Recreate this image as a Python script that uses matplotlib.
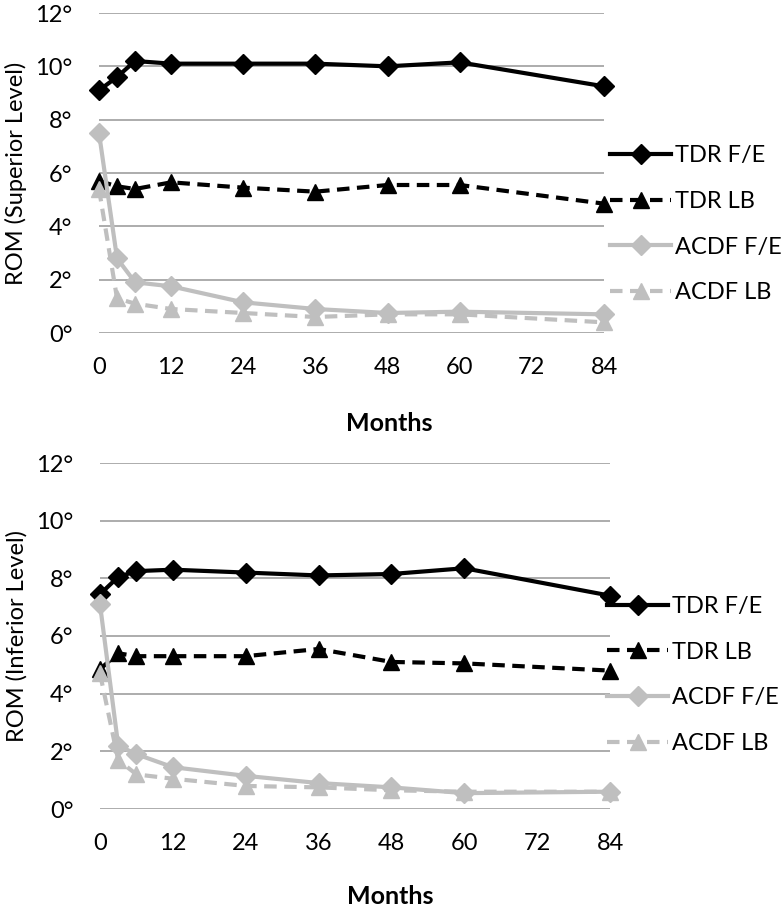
import matplotlib
matplotlib.use("Agg")
import matplotlib.pyplot as plt

plt.rcParams['font.family'] = ['Lato', 'DejaVu Sans']

months = [0, 3, 6, 12, 24, 36, 48, 60, 84]
x_ticks = [0, 12, 24, 36, 48, 60, 72, 84]
y_ticks = [0, 2, 4, 6, 8, 10, 12]
y_tick_labels = ["0°", "2°", "4°", "6°", "8°", "10°", "12°"]
series_names = ["TDR F/E", "TDR LB", "ACDF F/E", "ACDF LB"]

# Superior level
sup_tdr_fe = [9.1, 9.6, 10.2, 10.1, 10.1, 10.1, 10.0, 10.15, 9.25]
sup_tdr_lb = [5.7, 5.5, 5.4, 5.65, 5.45, 5.3, 5.55, 5.55, 4.85]
sup_acdf_fe = [7.5, 2.8, 1.9, 1.75, 1.15, 0.9, 0.75, 0.8, 0.7]
sup_acdf_lb = [5.4, 1.3, 1.1, 0.9, 0.75, 0.6, 0.7, 0.7, 0.4]

# Inferior level
inf_tdr_fe = [7.45, 8.05, 8.25, 8.3, 8.2, 8.1, 8.15, 8.35, 7.4]
inf_tdr_lb = [4.85, 5.4, 5.3, 5.3, 5.3, 5.55, 5.1, 5.05, 4.8]
inf_acdf_fe = [7.1, 2.2, 1.9, 1.45, 1.15, 0.9, 0.75, 0.55, 0.6]
inf_acdf_lb = [4.7, 1.7, 1.2, 1.05, 0.8, 0.75, 0.65, 0.6, 0.6]

BLACK = "#000000"
GRAY = "#BFBFBF"
GRID = "#A6A6A6"
FS = 17

styles = [
    dict(color=BLACK, linestyle='-', marker='D', ms=10),
    dict(color=BLACK, linestyle=(0, (3.0, 1.8)), marker='^', ms=12),
    dict(color=GRAY, linestyle='-', marker='D', ms=10),
    dict(color=GRAY, linestyle=(0, (3.0, 1.8)), marker='^', ms=12),
]

fig = plt.figure(figsize=(7.82, 9.08), dpi=100)

def draw(ax, data, ylabel, legend_anchor, xlabel_pos):
    for ys, st, name in zip(data, styles, series_names):
        ax.plot(months, ys, color=st['color'], linestyle=st['linestyle'],
                marker=st['marker'], markersize=st['ms'], linewidth=3.0,
                label=name, clip_on=False, zorder=3)
    ax.set_xlim(0, 84)
    ax.set_ylim(0, 12)
    ax.set_xticks(x_ticks)
    ax.set_xticklabels([str(v) for v in x_ticks], fontsize=FS)
    ax.set_yticks(y_ticks)
    ax.set_yticklabels(y_tick_labels, fontsize=FS)
    ax.yaxis.grid(True, color=GRID, linewidth=1.3, zorder=0)
    ax.set_axisbelow(True)
    for s in ax.spines.values():
        s.set_visible(False)
    ax.tick_params(axis='both', length=0)
    ax.tick_params(axis='x', pad=17)
    ax.tick_params(axis='y', pad=19)
    ax.set_xlabel("Months", fontsize=18, fontweight='bold')
    ax.xaxis.set_label_coords(*xlabel_pos)
    ax.xaxis.label.set_va('center')
    ax.set_ylabel(ylabel, fontsize=FS, labelpad=6)
    ax.legend(loc='center left', bbox_to_anchor=legend_anchor, frameon=False,
              fontsize=FS, handlelength=2.6, labelspacing=1.05,
              handletextpad=0.15, borderaxespad=0, borderpad=0)

ax1 = fig.add_axes([99/782, 1 - 333/908, (604 - 99)/782, (333 - 13)/908])
draw(ax1, [sup_tdr_fe, sup_tdr_lb, sup_acdf_fe, sup_acdf_lb],
     "ROM (Superior Level)", (1.012, 0.34), (0.574, -0.284))

ax2 = fig.add_axes([100/782, 1 - 809/908, (610 - 100)/782, (809 - 463)/908])
draw(ax2, [inf_tdr_fe, inf_tdr_lb, inf_acdf_fe, inf_acdf_lb],
     "ROM (Inferior Level)", (0.994, 0.387), (0.569, -0.254))

fig.savefig("out.png", dpi=100)
